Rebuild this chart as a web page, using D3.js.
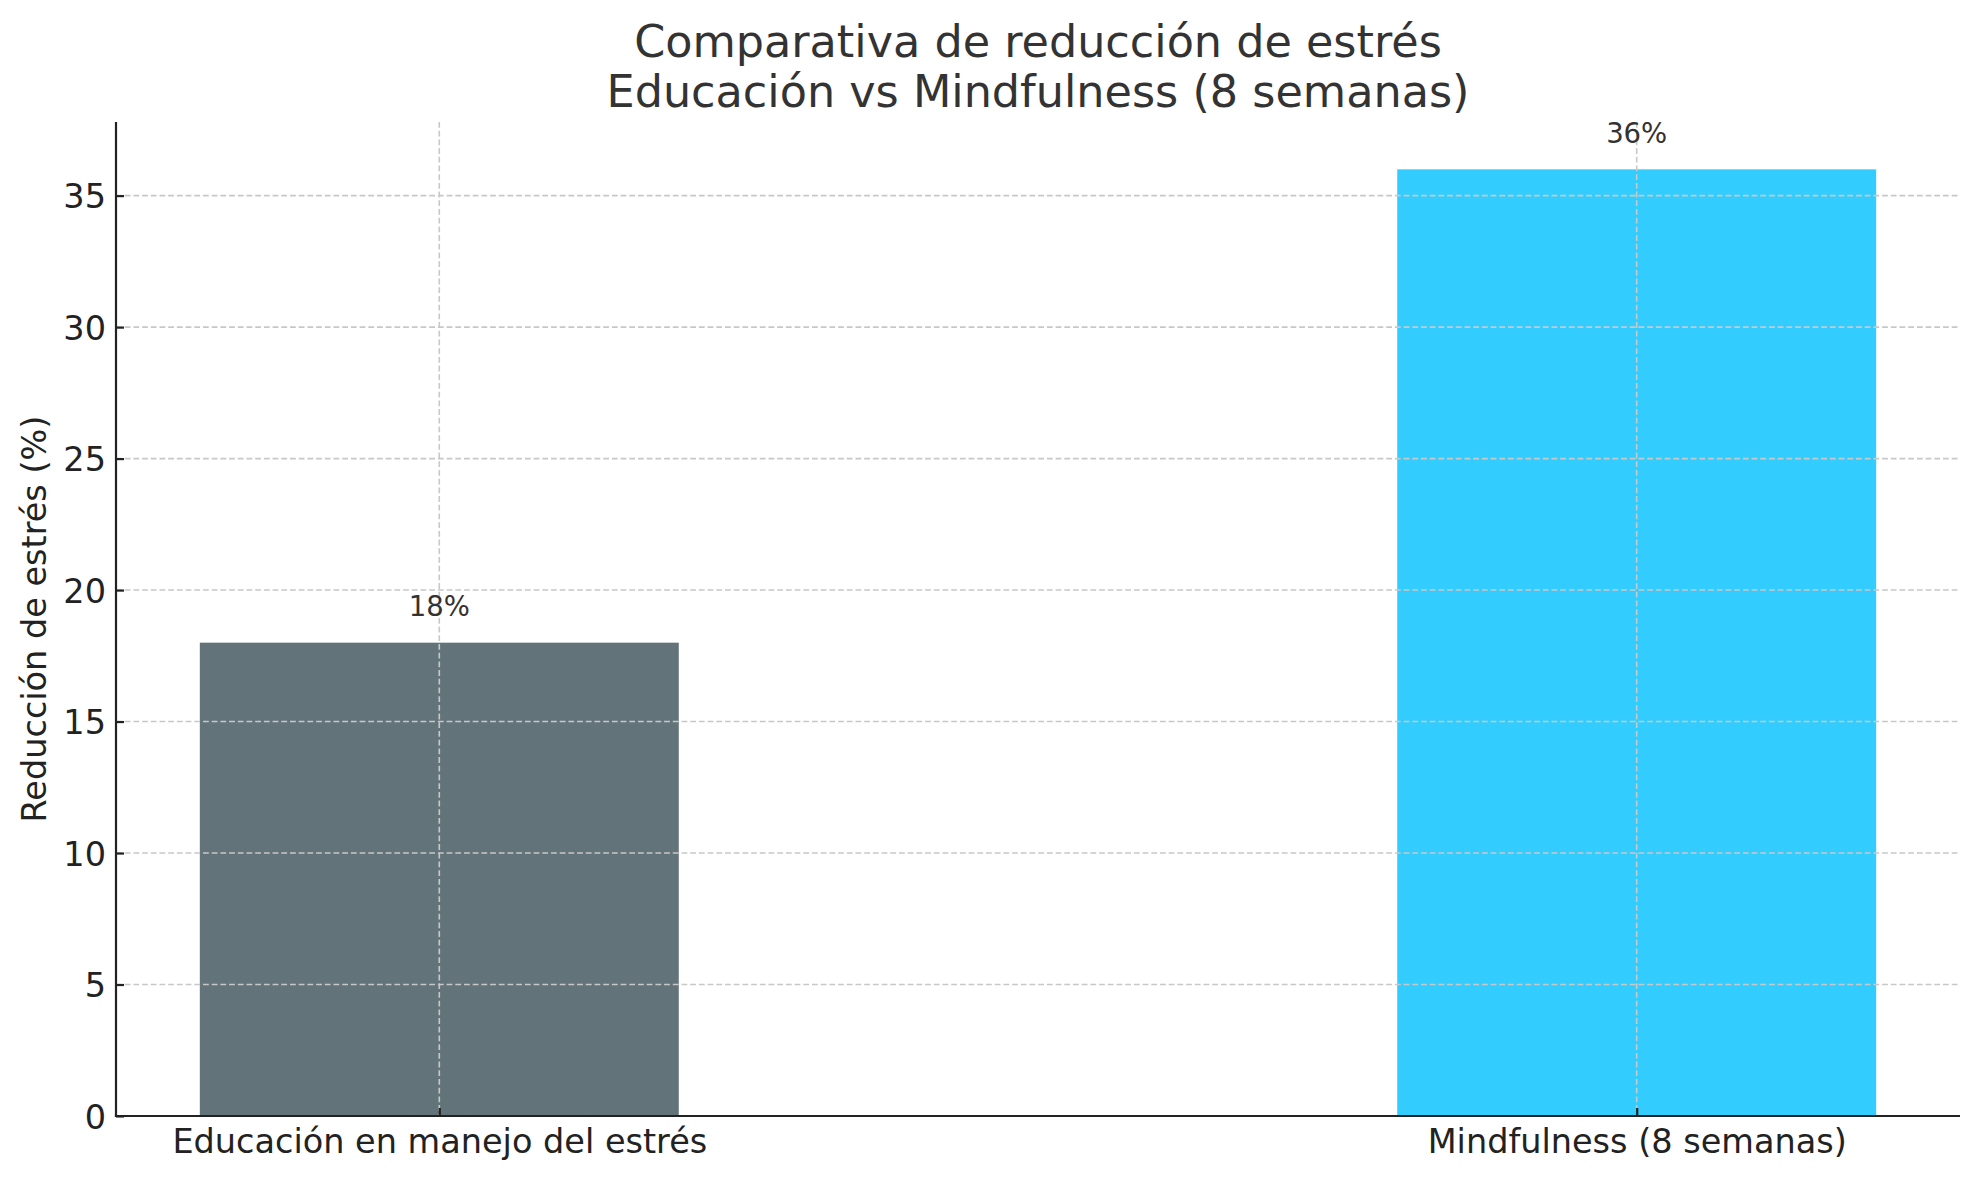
<!DOCTYPE html>
<html>
<head>
<meta charset="utf-8">
<script src="https://cdn.jsdelivr.net/npm/d3@7"></script>
<style>
  html, body { margin: 0; padding: 0; background: #fff; }
  svg { display: block; font-family: "DejaVu Sans", sans-serif; }
</style>
</head>
<body>
<svg id="chart" width="1979" height="1180"></svg>
<script>
const categories = ["Educación en manejo del estrés", "Mindfulness (8 semanas)"];
const values = [18, 36];
const valueLabels = ["18%", "36%"];
const barColors = ["#63737a", "#33ccff"];
const yTicks = [0, 5, 10, 15, 20, 25, 30, 35];
const titleLines = ["Comparativa de reducción de estrés", "Educación vs Mindfulness (8 semanas)"];
const yLabel = "Reducción de estrés (%)";

const W = 1979, H = 1180;
const m = { left: 116, right: 1960, top: 122, bottom: 1116 };
const barWidth = 0.4;

const svg = d3.select("#chart");

const x = d3.scaleLinear()
  .domain([-barWidth / 2 - 0.07, categories.length - 1 + barWidth / 2 + 0.07])
  .range([m.left, m.right]);
const y = d3.scaleLinear()
  .domain([0, d3.max(values) * 1.05])
  .range([m.bottom, m.top]);

// Bars
svg.append("g").selectAll("rect")
  .data(values)
  .join("rect")
  .attr("x", (d, i) => x(i - barWidth / 2))
  .attr("width", (d, i) => x(i + barWidth / 2) - x(i - barWidth / 2))
  .attr("y", d => y(d))
  .attr("height", d => y(0) - y(d))
  .attr("fill", (d, i) => barColors[i]);

// Grid (drawn above bars)
const grid = svg.append("g")
  .attr("stroke", "#c8c8c8")
  .attr("stroke-width", 1.6)
  .attr("stroke-dasharray", "5.8,2.9");
grid.selectAll("line.h")
  .data(yTicks.filter(t => t > 0))
  .join("line")
  .attr("class", "h")
  .attr("x1", m.left).attr("x2", m.right)
  .attr("y1", d => y(d)).attr("y2", d => y(d));
grid.selectAll("line.v")
  .data(categories.map((c, i) => i))
  .join("line")
  .attr("class", "v")
  .attr("x1", d => x(d)).attr("x2", d => x(d))
  .attr("y1", m.top).attr("y2", m.bottom);

// Value labels
svg.append("g").selectAll("text")
  .data(values)
  .join("text")
  .attr("x", (d, i) => x(i))
  .attr("y", d => y(d + 1))
  .attr("text-anchor", "middle")
  .attr("font-size", 27.5)
  .attr("fill", "#333")
  .text((d, i) => valueLabels[i]);

// Y axis
const yAxis = d3.axisLeft(y).tickValues(yTicks).tickSize(-8).tickPadding(10).tickFormat(d3.format("d"));
const gy = svg.append("g").attr("transform", `translate(${m.left},0)`).call(yAxis);
gy.select(".domain").remove();
gy.selectAll(".tick line").attr("stroke", "#222").attr("stroke-width", 2.2);
gy.selectAll(".tick text").attr("font-size", 33.5).attr("fill", "#222")
  .attr("font-family", "DejaVu Sans, sans-serif").attr("dy", "0.36em");

// X axis
const xAxis = d3.axisBottom(x).tickValues(categories.map((c, i) => i)).tickSize(-8).tickPadding(18)
  .tickFormat(i => categories[i]);
const gx = svg.append("g").attr("transform", `translate(0,${m.bottom})`).call(xAxis);
gx.select(".domain").remove();
gx.selectAll(".tick line").attr("stroke", "#222").attr("stroke-width", 2.2);
gx.selectAll(".tick text").attr("font-size", 33.5).attr("fill", "#222")
  .attr("font-family", "DejaVu Sans, sans-serif").attr("dy", "0.76em").attr("y", 12);

// Spines
svg.append("line").attr("x1", m.left).attr("x2", m.left).attr("y1", m.top).attr("y2", m.bottom + 1.1)
  .attr("stroke", "#222").attr("stroke-width", 2.2);
svg.append("line").attr("x1", m.left - 1.1).attr("x2", m.right).attr("y1", m.bottom).attr("y2", m.bottom)
  .attr("stroke", "#222").attr("stroke-width", 2.2);

// Y label
svg.append("text")
  .attr("transform", `translate(46,${(m.top + m.bottom) / 2}) rotate(-90)`)
  .attr("text-anchor", "middle")
  .attr("font-size", 33.5)
  .attr("fill", "#222")
  .text(yLabel);

// Title
svg.append("g").selectAll("text")
  .data(titleLines)
  .join("text")
  .attr("x", (m.left + m.right) / 2)
  .attr("y", (d, i) => 57 + i * 50)
  .attr("text-anchor", "middle")
  .attr("font-size", 44.5)
  .attr("fill", "#333")
  .text(d => d);
</script>
</body>
</html>
